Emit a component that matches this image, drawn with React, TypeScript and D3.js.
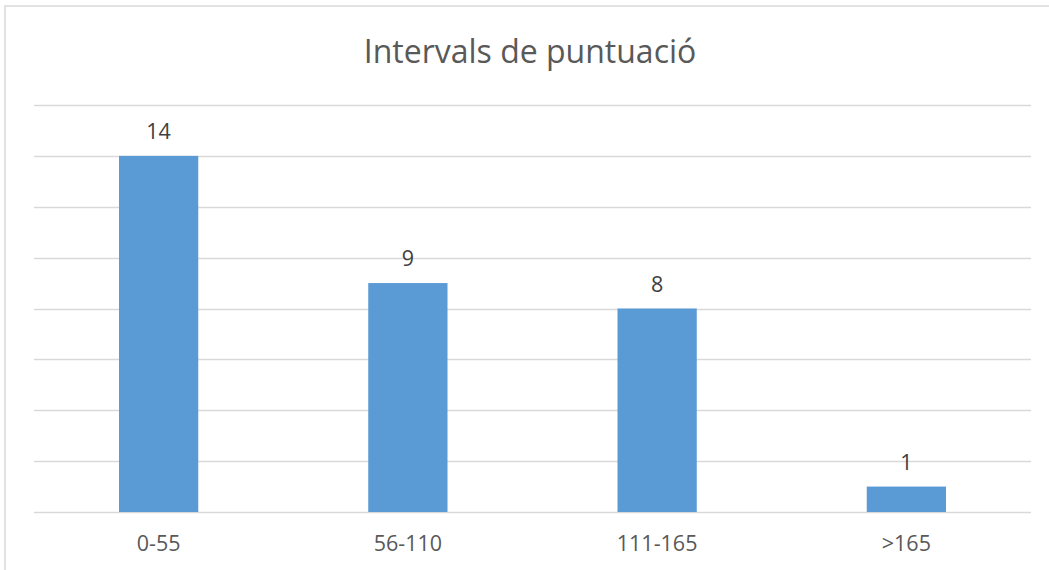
import React from "react";
import * as d3 from "d3";

const categories = ["0-55", "56-110", "111-165", ">165"];
const values = [14, 9, 8, 1];
const yTicks = [0, 2, 4, 6, 8, 10, 12, 14, 16];
const title = "Intervals de puntuació";

export default function App() {
  const W = 1049, H = 570;
  const left = 34, right = 1031, top = 105, bottom = 512;
  const x = d3.scaleBand<string>().domain(categories).range([left, right]).paddingInner(0.682).paddingOuter(0.341);
  const y = d3.scaleLinear().domain([0, 16]).range([bottom, top]);
  const font = "'Open Sans', sans-serif";
  const textColor = "#595959";
  return (
    <svg width={W} height={H} style={{ position: "absolute", left: 0, top: 0, background: "#fff" }}>
      <rect x={5} y={6} width={W + 10} height={H + 10} fill="#fff" stroke="#d9d9d9" strokeWidth={1.5} />
      <text x={530} y={63} textAnchor="middle" fontFamily={font} fontSize={32} fill={textColor}>{title}</text>
      {yTicks.map((t) => (
        <line key={t} x1={left} x2={right} y1={Math.round(y(t)) + 0.5} y2={Math.round(y(t)) + 0.5} stroke="#d9d9d9" strokeWidth={1.3} />
      ))}
      {categories.map((c, i) => (
        <g key={c}>
          <rect x={x(c)} y={y(values[i])} width={x.bandwidth()} height={y(0) - y(values[i])} fill="#5b9bd5" />
          <text x={x(c)! + x.bandwidth() / 2} y={y(values[i]) - 17} textAnchor="middle" fontFamily={font} fontSize={21.5} fill="#404040">{values[i]}</text>
          <text x={x(c)! + x.bandwidth() / 2} y={551} textAnchor="middle" fontFamily={font} fontSize={21.5} fill={textColor}>{c}</text>
        </g>
      ))}
    </svg>
  );
}
